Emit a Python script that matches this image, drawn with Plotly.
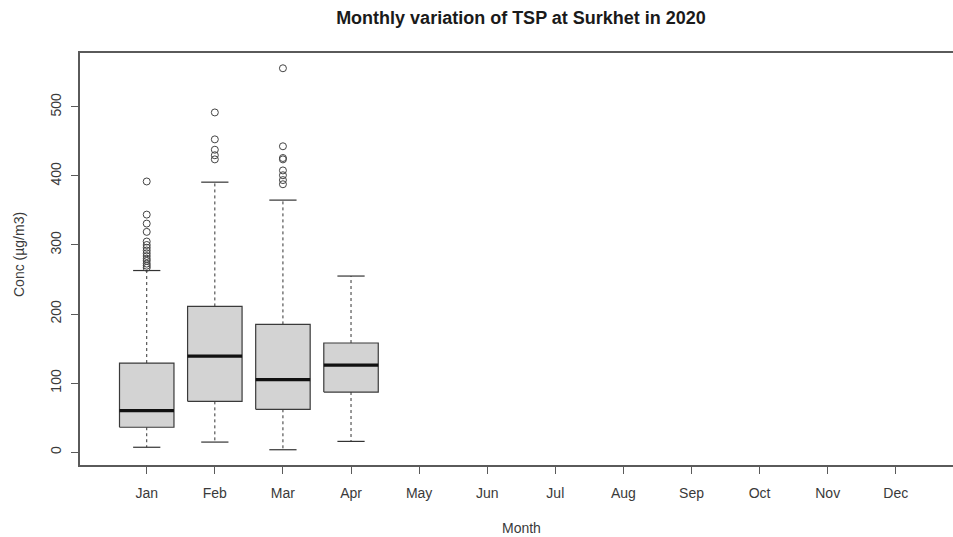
import plotly.graph_objects as go

# Monthly TSP concentration summary (µg/m3), Surkhet 2020
months = ["Jan", "Feb", "Mar", "Apr", "May", "Jun",
          "Jul", "Aug", "Sep", "Oct", "Nov", "Dec"]

# five-number summaries for months with observations (Jan–Apr)
whisker_low = [7, 14.5, 3.4, 15.5]
q1 = [36, 73.5, 62, 87]
median = [60, 139, 105, 126]
q3 = [129, 211, 185, 158]
whisker_high = [263, 391, 365, 255]

# observations beyond 1.5 IQR
outliers = [
    [392, 344, 331, 319, 305, 300, 296, 292, 288, 284, 280, 277, 273, 270, 267],
    [492, 453, 438, 430, 424],
    [556, 443, 426, 424, 408, 401, 394, 388],
    [],
]

y_ticks = [0, 100, 200, 300, 400, 500]

half_box = 0.4      # boxwex 0.8
half_staple = 0.2   # staplewex 0.5

box_x, box_y = [], []
med_x, med_y = [], []
wh_x, wh_y = [], []
st_x, st_y = [], []
out_x, out_y = [], []

for i in range(len(q1)):
    c = i + 1
    box_x += [c - half_box, c + half_box, c + half_box, c - half_box, c - half_box, None]
    box_y += [q1[i], q1[i], q3[i], q3[i], q1[i], None]
    med_x += [c - half_box, c + half_box, None]
    med_y += [median[i], median[i], None]
    wh_x += [c, c, None, c, c, None]
    wh_y += [q3[i], whisker_high[i], None, q1[i], whisker_low[i], None]
    st_x += [c - half_staple, c + half_staple, None, c - half_staple, c + half_staple, None]
    st_y += [whisker_high[i], whisker_high[i], None, whisker_low[i], whisker_low[i], None]
    out_x += [c] * len(outliers[i])
    out_y += outliers[i]

fig = go.Figure()

fig.add_trace(go.Scatter(x=wh_x, y=wh_y, mode="lines",
                         line=dict(color="#333333", width=1, dash="3px,3px"),
                         hoverinfo="skip"))
fig.add_trace(go.Scatter(x=st_x, y=st_y, mode="lines",
                         line=dict(color="#333333", width=1.2),
                         hoverinfo="skip"))
fig.add_trace(go.Scatter(x=box_x, y=box_y, mode="lines", fill="toself",
                         fillcolor="#d3d3d3",
                         line=dict(color="#3a3a3a", width=1.2),
                         hoverinfo="skip"))
fig.add_trace(go.Scatter(x=med_x, y=med_y, mode="lines",
                         line=dict(color="#111111", width=3.2),
                         hoverinfo="skip"))
fig.add_trace(go.Scatter(x=out_x, y=out_y, mode="markers",
                         marker=dict(symbol="circle-open", size=7,
                                     color="#444444", line=dict(width=1)),
                         hoverinfo="y"))

font_family = "Liberation Sans, Arial, sans-serif"
ml, mt, mb = 80, 53, 72
W, H = 953, 537
pw, ph = W - ml, H - mt - mb

fig.update_layout(
    width=W, height=H,
    margin=dict(l=ml, r=0, t=mt, b=mb, pad=0),
    plot_bgcolor="white", paper_bgcolor="white",
    showlegend=False,
    font=dict(family=font_family, size=14, color="#333333"),
    title=dict(text="<b>Monthly variation of TSP at Surkhet in 2020</b>",
               x=521 / W, xanchor="center", xref="container",
               y=1 - 18 / H, yanchor="middle",
               font=dict(family=font_family, size=18, color="#1a1a1a")),
    xaxis=dict(range=[0.02, 12.84], tickmode="array",
               tickvals=list(range(1, 13)), ticktext=months,
               showgrid=False, zeroline=False,
               showline=True, mirror=True, linecolor="#5a5a5a", linewidth=1.5,
               ticks="outside", ticklen=7, tickcolor="#5a5a5a", tickwidth=1,
               ticklabelstandoff=7,
               tickfont=dict(size=14, color="#3a3a3a")),
    yaxis=dict(range=[-18.7, 578.1], tickmode="array", tickvals=y_ticks,
               showgrid=False, zeroline=False,
               showline=True, linecolor="#5a5a5a", linewidth=1.5,
               ticks="outside", ticklen=7, tickcolor="#5a5a5a", tickwidth=1,
               tickangle=-90, ticklabelstandoff=5,
               tickfont=dict(size=14, color="#3a3a3a")),
    annotations=[
        dict(text="Month", xref="paper", yref="paper",
             x=(521 - ml) / pw, y=-(528 - (mt + ph)) / ph,
             xanchor="center", yanchor="middle", showarrow=False,
             font=dict(size=14, color="#3a3a3a")),
        dict(text="Conc (µg/m3)", xref="paper", yref="paper",
             x=(19 - ml) / pw, y=(mt + ph - 255) / ph,
             xanchor="center", yanchor="middle", textangle=-90,
             showarrow=False, font=dict(size=14, color="#3a3a3a")),
    ],
)

fig.write_html("out.html")
